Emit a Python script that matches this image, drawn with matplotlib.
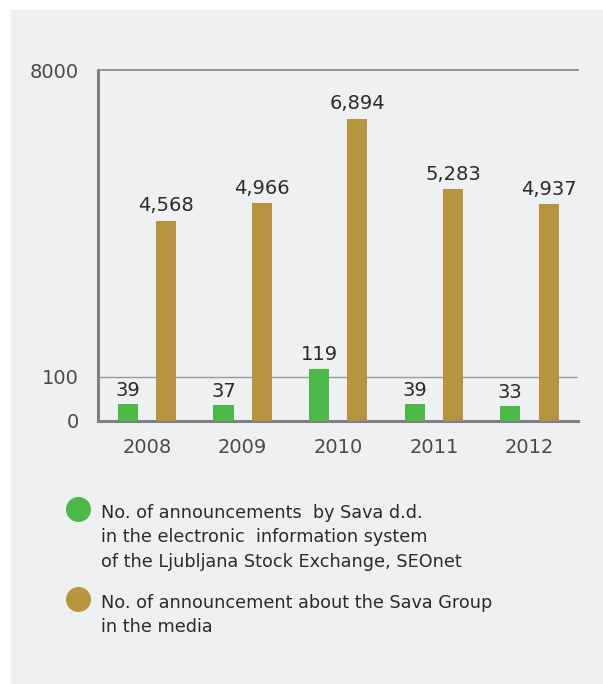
import matplotlib.pyplot as plt
import numpy as np
from matplotlib.patches import Rectangle
from matplotlib.lines import Line2D

years = ["2008", "2009", "2010", "2011", "2012"]
seonet = [39, 37, 119, 39, 33]          # lower scale 0-100
media = [4568, 4966, 6894, 5283, 4937]  # full scale 0-8000

GREEN = "#4cb848"
GOLD = "#b99440"
BG = "#eff0f2"
AXIS = "#7f8084"
TEXT = "#2b2b2b"

W, H = 603, 684
fig = plt.figure(figsize=(W / 100, H / 100), dpi=100)
fig.patch.set_facecolor("white")
fig.patches.append(Rectangle((11 / W, 0), 1, (H - 10) / H,
                             transform=fig.transFigure, color=BG, zorder=-10))

ax = fig.add_axes([98 / W, 263 / H, 480 / W, 351 / H])
ax.set_facecolor("none")
ax2 = ax.twinx()
ax2.set_facecolor("none")

xs = np.arange(len(years))
bw = 0.21
ax.bar(xs - 0.2, seonet, width=bw, color=GREEN, zorder=3)
ax2.bar(xs + 0.2, media, width=bw, color=GOLD, zorder=3)

# lower scale: 100 sits 44 px above baseline on a 351 px axis
ax.set_ylim(0, 100 * 351 / 44)
ax2.set_ylim(0, 8000)
ax.set_xlim(-0.513, 4.508)

ax.axhline(100, color="#999a9d", linewidth=1.0, zorder=1)
ax2.axhline(8000, color="#8c8d90", linewidth=1.3, zorder=1, clip_on=False)

for x, v in zip(xs, seonet):
    ax.annotate(f"{v:,}", xy=(x - 0.2, v), xytext=(0, 3), textcoords="offset points",
                ha="center", va="bottom", fontsize=14, color=TEXT)
for x, v in zip(xs, media):
    ax2.annotate(f"{v:,}", xy=(x + 0.2, v), xytext=(0, 4), textcoords="offset points",
                 ha="center", va="bottom", fontsize=14, color=TEXT)

ax.set_xticks(xs)
ax.set_xticklabels(years, fontsize=14, color="#4a4a4a")
ax.tick_params(axis="x", length=0, pad=12)

ax.set_yticks([0, 100])
ax.set_yticklabels(["0", "100"], fontsize=14, color="#4a4a4a")
ax.tick_params(axis="y", length=0, pad=14)
ax2.yaxis.tick_left()
ax2.set_yticks([8000])
ax2.set_yticklabels(["8000"], fontsize=14, color="#4a4a4a")
ax2.tick_params(axis="y", length=0, pad=14)

for s in ("top", "right"):
    ax.spines[s].set_visible(False)
for s in ("left", "bottom"):
    ax.spines[s].set_color(AXIS)
    ax.spines[s].set_linewidth(2.2)
for s in ax2.spines.values():
    s.set_visible(False)

# legend
entries = [
    (GREEN, "No. of announcements  by Sava d.d.\nin the electronic  information system\n"
            "of the Ljubljana Stock Exchange, SEOnet", 509),
    (GOLD, "No. of announcement about the Sava Group\nin the media", 599),
]
for color, label, yc in entries:
    fig.add_artist(Line2D([78 / W], [1 - yc / H], marker="o", markersize=17,
                          color=color, linestyle="none", transform=fig.transFigure))
    fig.text(101 / W, 1 - (yc - 5) / H, label, fontsize=12.7, color=TEXT,
             va="top", ha="left", linespacing=1.45)

fig.savefig("out.png", dpi=100, facecolor="white")
